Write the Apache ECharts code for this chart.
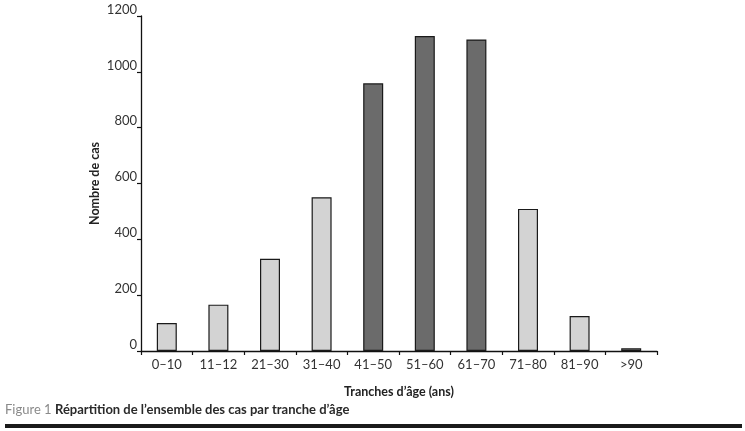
<!DOCTYPE html>
<html><head><meta charset="utf-8">
<script src="https://cdn.jsdelivr.net/npm/echarts@6/dist/echarts.min.js"></script>
<style>html,body{margin:0;padding:0;background:#fff}#c{width:745px;height:431px}</style>
</head><body><div id="c"></div>
<script>
const categories = ['0–10','11–12','21–30','31–40','41–50','51–60','61–70','71–80','81–90','>90'];
const values = [100, 166, 330, 551, 959, 1128, 1116, 509, 125, 10];
const darkCats = ['41–50','51–60','61–70'];
const yTicks = {min: 0, max: 1200, interval: 200};
const FONT = 'Lato, "Open Sans", sans-serif';

const chart = echarts.init(document.getElementById('c'), null, {renderer: 'canvas'});
chart.setOption({
  animation: false,
  grid: {left: 141, right: 88, top: 16, bottom: 80},
  xAxis: {
    type: 'category', data: categories,
    axisLine: {lineStyle: {color: '#111', width: 1.3}},
    axisTick: {show: true, length: 4, lineStyle: {color: '#111', width: 1.2}},
    axisLabel: {color: '#333', fontFamily: FONT, fontSize: 13, margin: 7},
    name: 'Tranches d’âge (ans)', nameLocation: 'middle', nameGap: 34,
    nameTextStyle: {color: '#222', fontFamily: FONT, fontSize: 12.5, fontWeight: 'bold'}
  },
  yAxis: {
    type: 'value', min: yTicks.min, max: yTicks.max, interval: yTicks.interval,
    axisLine: {show: true, lineStyle: {color: '#111', width: 1.3}},
    axisTick: {show: true, length: 4, lineStyle: {color: '#111', width: 1.2}},
    axisLabel: {color: '#333', fontFamily: FONT, fontSize: 13, margin: 4,
      formatter: v => String(v), verticalAlign: 'bottom', lineHeight: 13},
    splitLine: {show: false},
    name: 'Nombre de cas', nameLocation: 'middle', nameGap: 40, nameMoveOverlap: false,
    nameTextStyle: {color: '#222', fontFamily: FONT, fontSize: 12.5, fontWeight: 'bold'}
  },
  series: [{
    type: 'bar', barWidth: 20,
    data: values.map((v, i) => ({
      value: v,
      itemStyle: {color: darkCats.includes(categories[i]) ? '#6b6b6b' : '#d3d3d3'}
    })),
    itemStyle: {borderColor: '#1a1a1a', borderWidth: 1.2}
  }],
  graphic: [
    {type: 'text', left: 5, top: 403, style: {
      text: '{a|Figure 1 }{b|Répartition de l’ensemble des cas par tranche d’âge}',
      rich: {
        a: {fill: '#8a8a8a', fontFamily: FONT, fontSize: 13},
        b: {fill: '#2a2a2a', fontFamily: FONT, fontSize: 13, fontWeight: 'bold'}
      }
    }},
    {type: 'rect', shape: {x: 5, y: 424, width: 737, height: 4}, style: {fill: '#1a1a1a'}}
  ]
});
</script></body></html>
